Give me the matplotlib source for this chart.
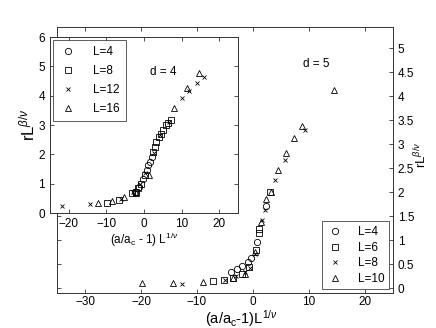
import numpy as np
import matplotlib
matplotlib.use('Agg')
import matplotlib.pyplot as plt

# d = 5 (main axes)
m_x4 = [-3.9, -2.8, -1.9, -0.9, -0.4, 0.7, 2.4]
m_y4 = [0.34, 0.40, 0.47, 0.55, 0.62, 0.96, 1.72]
m_x6 = [-7.1, -5.1, -3.5, -2.0, -0.8, 0.5, 1.0, 1.1, 3.0]
m_y6 = [0.15, 0.17, 0.22, 0.30, 0.45, 0.79, 1.15, 1.24, 2.00]
m_x8 = [-12.7, -5.0, -3.0, -1.5, -0.5, 0.3, 1.6, 2.2, 3.9, 5.7, 9.3]
m_y8 = [0.08, 0.18, 0.25, 0.33, 0.42, 0.72, 1.43, 1.62, 2.25, 2.68, 3.29]
m_x10 = [-19.8, -14.2, -9.0, -3.5, -1.5, 0.3, 1.4, 2.4, 3.2, 4.5, 5.9, 7.4, 8.7, 14.5]
m_y10 = [0.10, 0.10, 0.12, 0.22, 0.30, 0.75, 1.38, 1.86, 2.00, 2.47, 2.82, 3.13, 3.38, 4.13]

# d = 4 (inset)
i_x4 = [-2.5, -1.2, -0.2, 0.7, 1.1, 1.6, 2.0]
i_y4 = [0.70, 0.90, 1.15, 1.47, 1.64, 1.75, 1.92]
i_x8 = [-9.8, -6.6, -3.1, -2.2, -1.5, -0.8, 0.2, 2.4, 2.9, 3.3, 4.0, 4.5, 5.1, 5.8, 6.4, 7.1]
i_y8 = [0.35, 0.44, 0.68, 0.72, 0.85, 0.98, 1.30, 2.09, 2.24, 2.43, 2.58, 2.69, 2.83, 2.99, 3.06, 3.17]
i_x12 = [-21.8, -14.4, -6.0, -2.8, -1.0, 0.3, 2.6, 4.3, 6.6, 10.1, 12.1, 14.1, 15.9]
i_y12 = [0.25, 0.31, 0.47, 0.70, 1.00, 1.35, 2.05, 2.65, 3.10, 3.91, 4.17, 4.43, 4.65]
i_x16 = [-12.2, -8.5, -5.3, -2.2, 1.4, 8.0, 11.4, 14.7]
i_y16 = [0.35, 0.41, 0.55, 0.68, 1.30, 3.57, 4.25, 4.77]

plt.rcParams['font.family'] = ['Liberation Sans', 'DejaVu Sans']
plt.rcParams['mathtext.fontset'] = 'custom'
plt.rcParams['mathtext.rm'] = 'Liberation Sans'
plt.rcParams['mathtext.it'] = 'Liberation Sans:italic'

W, H = 436, 328
fig = plt.figure(figsize=(W / 100, H / 100), dpi=100)

edge = '#333333'


def style(ax):
    for s in ax.spines.values():
        s.set_color(edge)
        s.set_linewidth(0.7)
    ax.tick_params(direction='in', length=3, width=0.6, colors=edge,
                   labelcolor='black', labelsize=8.5, top=True, right=True)


def pts(ax, x, y, mk, lab, ms):
    ax.plot(x, y, linestyle='none', marker=mk, ms=ms, mfc='none',
            mec='black', mew=0.6, color='black', label=lab)


# main axes
ax = fig.add_axes([57 / W, 1 - 293 / H, 336 / W, 266 / H])
style(ax)
pts(ax, m_x4, m_y4, 'o', 'L=4', 4.5)
pts(ax, m_x6, m_y6, 's', 'L=6', 4)
pts(ax, m_x8, m_y8, 'x', 'L=8', 3.5)
pts(ax, m_x10, m_y10, '^', 'L=10', 5)
ax.set_xlim(-35, 25)
ax.set_ylim(-0.1, 5.44)
ax.set_xticks([-30, -20, -10, 0, 10, 20])
ax.set_yticks(np.arange(0, 5.01, 0.5))
ax.set_yticklabels(['0', '0.5', '1', '1.5', '2', '2.5', '3', '3.5', '4', '4.5', '5'])
ax.yaxis.tick_right()
ax.tick_params(left=True, right=True, labelleft=False, labelright=True)
ax.tick_params(axis='x', pad=2)
ax.set_xlabel(r'(a/a$_{\rm c}$-1)L$^{1/\nu}$', fontsize=10.5)
ax.xaxis.set_label_coords(0.548, -0.057)
ax.yaxis.set_label_position('right')
ax.set_ylabel(r'rL$^{\beta/\nu}$', fontsize=9.5)
ax.yaxis.set_label_coords(1.06, 0.52)
ax.text(8.9, 4.6, 'd = 5', fontsize=8.5)
leg = ax.legend(loc='lower right', fontsize=8.5, frameon=True, fancybox=False,
                edgecolor=edge, labelspacing=0.3, handletextpad=1.2,
                borderpad=0.4, handlelength=1.5, borderaxespad=0.3)
leg.get_frame().set_linewidth(0.7)

# inset
ai = fig.add_axes([50 / W, 1 - 213 / H, 188 / W, 176 / H])
style(ai)
pts(ai, i_x4, i_y4, 'o', 'L=4', 4.5)
pts(ai, i_x8, i_y8, 's', 'L=8', 4)
pts(ai, i_x12, i_y12, 'x', 'L=12', 3.5)
pts(ai, i_x16, i_y16, '^', 'L=16', 5)
ai.set_xlim(-25, 25)
ai.set_ylim(0, 6)
ai.set_xticks([-20, -10, 0, 10, 20])
ai.set_yticks(range(7))
ai.set_xlabel(r'(a/a$_{\rm c}$ - 1) L$^{1/\nu}$', fontsize=8.5, labelpad=1)
ai.set_ylabel(r'rL$^{\beta/\nu}$', fontsize=12, labelpad=1)
ai.text(1.6, 4.7, 'd = 4', fontsize=8.5)
leg2 = ai.legend(loc='upper left', fontsize=8.5, frameon=True, fancybox=False,
                 edgecolor=edge, labelspacing=0.6, handletextpad=1.4,
                 borderpad=0.5, handlelength=1.5, borderaxespad=0.25)
leg2.get_frame().set_linewidth(0.7)

fig.savefig('out.png', dpi=100)
